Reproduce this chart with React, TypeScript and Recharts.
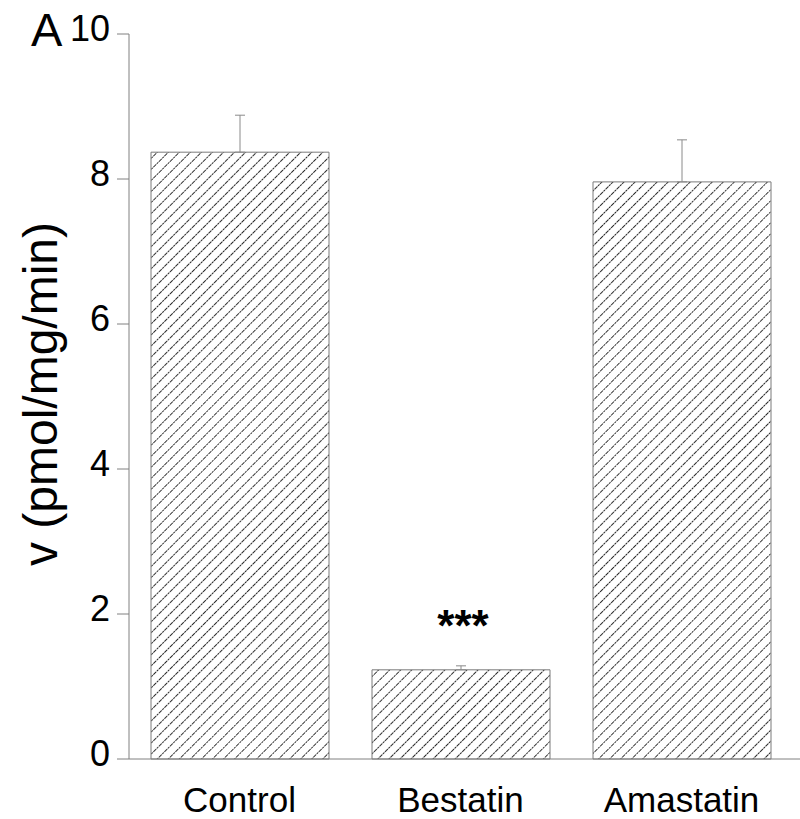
import { BarChart, Bar, XAxis, YAxis, ErrorBar, LabelList, Label } from 'recharts'

const categories = ['Control', 'Bestatin', 'Amastatin']
const means = [8.37, 1.23, 7.96]
const sems = [0.51, 0.055, 0.58]
const marks = ['', '***', '']
const yTicks = [0, 2, 4, 6, 8, 10]

const data = categories.map((name, i) => ({
  name,
  v: means[i],
  err: [0, sems[i]],   // only the upper arm is drawn in the figure
  mark: marks[i],
}))

const FONT = 'Liberation Sans, Arial, sans-serif'
const AXIS = '#808080'

// eslint-disable-next-line @typescript-eslint/no-explicit-any
function YTick({ x, y, payload }: any) {
  return (
    <text x={x} y={y + 7} textAnchor="end" fontSize={36} fontFamily={FONT} fill="#000">
      {payload.value}
    </text>
  )
}

// eslint-disable-next-line @typescript-eslint/no-explicit-any
function XTick({ x, payload }: any) {
  return (
    <text x={x} y={812} textAnchor="middle" fontSize={35} fontFamily={FONT} fill="#000">
      {payload.value}
    </text>
  )
}

// eslint-disable-next-line @typescript-eslint/no-explicit-any
function Stars({ x, y, width, value }: any) {
  if (!value) return null
  return (
    <text x={x + width / 2 + 2} y={y - 29} textAnchor="middle" fontSize={44} fontWeight="bold" fontFamily={FONT} fill="#000">
      {value}
    </text>
  )
}

export default function App() {
  return (
    <div style={{ position: 'absolute', left: 0, top: 0, width: 800, height: 819, background: '#fff' }}>
      <BarChart
        width={800}
        height={819}
        data={data}
        barSize={178}
        margin={{ top: 34, right: 0, left: 0, bottom: 0 }}
      >
        <defs>
          <pattern id="hatch" width="7.8" height="7.8" patternUnits="userSpaceOnUse" patternTransform="rotate(45)">
            <rect width="7.8" height="7.8" fill="#fff" />
            <line x1="0" y1="0" x2="0" y2="7.8" stroke="#000" strokeWidth={1.6} strokeDasharray="2.2 0.7" />
          </pattern>
        </defs>
        <XAxis
          dataKey="name"
          height={60}
          padding={{ left: 0, right: 8 }}
          tickLine={false}
          tickSize={0}
          tick={<XTick />}
          axisLine={{ stroke: AXIS }}
        />
        <YAxis
          width={129}
          domain={[0, 10]}
          ticks={yTicks}
          tickSize={12}
          tickMargin={7}
          tick={<YTick />}
          tickLine={{ stroke: AXIS }}
          axisLine={{ stroke: AXIS }}
        >
          <Label
            content={() => (
              <text
                x={57}
                y={394}
                transform="rotate(-90 57 394)"
                textAnchor="middle"
                fontSize={48}
                fontFamily={FONT}
                fill="#000"
              >
                v (pmol/mg/min)
              </text>
            )}
          />
          <Label
            content={() => (
              <text x={31} y={46} fontSize={47} fontFamily={FONT} fill="#000">
                A
              </text>
            )}
          />
        </YAxis>
        <Bar dataKey="v" fill="url(#hatch)" stroke="#7a7a7a" strokeWidth={1} isAnimationActive={false}>
          <ErrorBar dataKey="err" width={5} stroke="#8a8a8a" strokeWidth={1} isAnimationActive={false} />
          <LabelList dataKey="mark" content={<Stars />} />
        </Bar>
      </BarChart>
    </div>
  )
}
